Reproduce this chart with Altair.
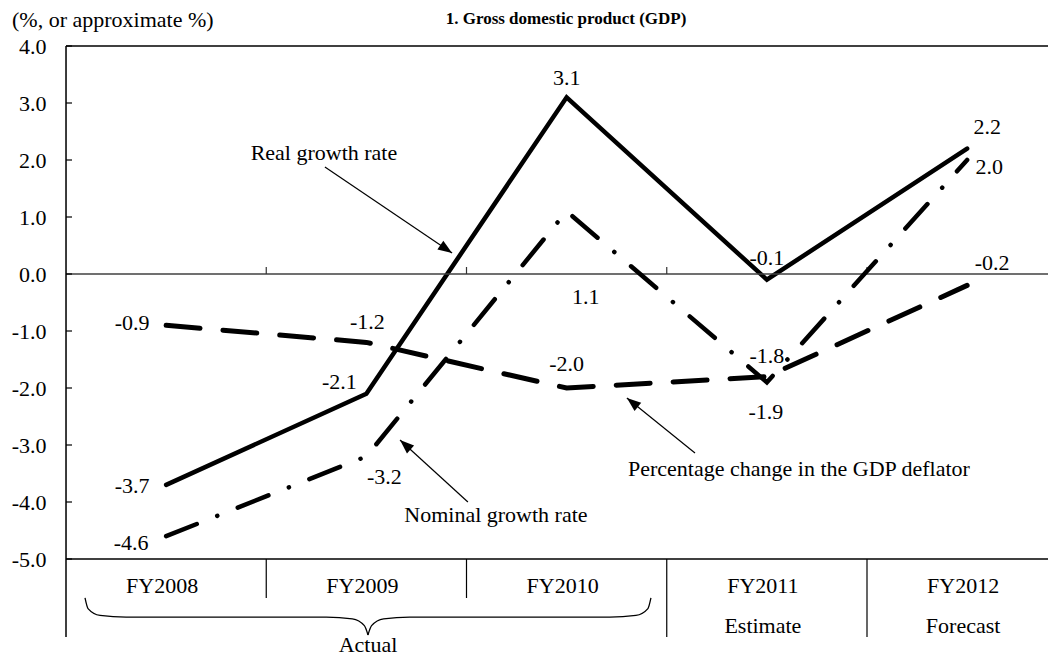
import altair as alt
import pandas as pd

# ---------------- data ----------------
categories = ["FY2008", "FY2009", "FY2010", "FY2011", "FY2012"]
sublabels = ["", "", "", "Estimate", "Forecast"]
real_growth = [-3.7, -2.1, 3.1, -0.1, 2.2]
nominal_growth = [-4.6, -3.2, 1.1, -1.9, 2.0]
deflator_change = [-0.9, -1.2, -2.0, -1.8, -0.2]
y_ticks = [-5, -4, -3, -2, -1, 0, 1, 2, 3, 4]

# ---------------- layout ----------------
W, H = 982, 513
PX_X = 200.25          # pixels per category band (last band runs past the right edge)
PX_Y = H / 9
X_MAX = W / PX_X
FONT = "Liberation Serif"
FS = 22

# label offsets in pixels (dx, dy) from each point
label_offsets = {
    "real": [(-34, 1), (-27, -12), (0, -19), (0, -22), (20, -22)],
    "nominal": [(-35, 7), (18, 21), (19, 86), (-1, 30), (22, 7)],
    "deflator": [(-34, -2), (1, -20), (0, -24), (0, -21), (25, -22)],
}

series = {"real": real_growth, "nominal": nominal_growth, "deflator": deflator_change}
rows = []
for s, vals in series.items():
    for i, v in enumerate(vals):
        dx, dy = label_offsets[s][i]
        rows.append({
            "series": s, "cat": categories[i], "pos": i + 0.5, "value": v,
            "label": f"{v:.1f}",
            "lx": i + 0.5 + dx / PX_X, "ly": v - dy / PX_Y,
        })
df = pd.DataFrame(rows)
cat_df = pd.DataFrame({"cat": categories, "sub": sublabels,
                       "pos": [i + 0.5 for i in range(len(categories))]})

XS = alt.Scale(domain=[0, X_MAX], nice=False, zero=False)
YS = alt.Scale(domain=[-5, 4], nice=False, zero=False)

yaxis = alt.Axis(values=y_ticks,
                 labelExpr="(datum.value < 0 ? '-' : '') + format(abs(datum.value), '.1f')",
                 labelFont=FONT, labelFontSize=FS, labelColor="black",
                 ticks=False, domain=False, grid=False, labelPadding=20, title=None)


def X(f):
    return alt.X(f, type="quantitative", scale=XS, axis=None)


def Y(f):
    return alt.Y(f, type="quantitative", scale=YS, axis=yaxis)


base = alt.Chart(df)

line_real = base.transform_filter("datum.series == 'real'").mark_line(
    color="black", strokeWidth=4.5, strokeJoin="miter", strokeCap="round"
).encode(x=X("pos"), y=Y("value"))

line_nom = base.transform_filter("datum.series == 'nominal'").mark_line(
    color="black", strokeWidth=4.5, strokeCap="round", strokeDash=[33, 22, 0.1, 22]
).encode(x=X("pos"), y=Y("value"))

line_def = base.transform_filter("datum.series == 'deflator'").mark_line(
    color="black", strokeWidth=5, strokeCap="round", strokeDash=[34, 23]
).encode(x=X("pos"), y=Y("value"))

labels = base.mark_text(font=FONT, fontSize=FS, color="black", baseline="middle").encode(
    x=X("lx"), y=Y("ly"), text="label:N")

# frame lines
hlines = alt.Chart(pd.DataFrame({"y": [4, 0, -5], "w": [2, 1.5, 2]})).mark_rule(
    color="#404040").encode(y=Y("y"), strokeWidth=alt.StrokeWidth("w:Q", scale=None))

left_axis = alt.Chart(pd.DataFrame({"x": [0]})).mark_rule(color="black", strokeWidth=1.5).encode(
    x=X("x"), y=alt.value(0), y2=alt.value(H + 78))

ytick_marks = alt.Chart(pd.DataFrame({"y": y_ticks})).mark_rule(color="black", strokeWidth=1.2).encode(
    y=Y("y"), x=alt.value(0), x2=alt.value(6))

zero_ticks = alt.Chart(pd.DataFrame({"x": [1, 2, 3, 4], "y": [0] * 4, "y2": [7 / PX_Y] * 4})).mark_rule(
    color="#333333", strokeWidth=1.2).encode(x=X("x"), y=Y("y"), y2="y2:Q")

sep_short = alt.Chart(pd.DataFrame({"x": [1, 2]})).mark_rule(color="black", strokeWidth=1.2).encode(
    x=X("x"), y=alt.value(H), y2=alt.value(H + 39))
sep_long = alt.Chart(pd.DataFrame({"x": [3, 4]})).mark_rule(color="black", strokeWidth=1.2).encode(
    x=X("x"), y=alt.value(H), y2=alt.value(H + 78))

cat_text = alt.Chart(cat_df).mark_text(font=FONT, fontSize=FS, color="black", baseline="middle", dx=-4).encode(
    x=X("pos"), y=alt.value(H + 27), text="cat:N")
sub_text = alt.Chart(cat_df).transform_filter("datum.sub != ''").mark_text(
    font=FONT, fontSize=FS, color="black", baseline="middle", dx=-4).encode(
    x=X("pos"), y=alt.value(H + 67), text="sub:N")

# brace under the actual years
brace_df = pd.DataFrame({
    "part": ["l"] * 8 + ["r"] * 8,
    "bx": [0.095, 0.11, 0.17, 0.30, 1.30, 1.43, 1.49, 1.508,
           1.508, 1.526, 1.586, 1.716, 2.716, 2.846, 2.906, 2.921],
    "by": [-5.684, -5.87, -5.99, -6.018, -6.018, -6.05, -6.17, -6.333,
           -6.333, -6.17, -6.05, -6.018, -6.018, -5.99, -5.87, -5.684],
})
brace = alt.Chart(brace_df).mark_line(color="black", strokeWidth=1.3, interpolate="monotone").encode(
    x=X("bx"), y=Y("by"), detail="part:N")
actual_text = alt.Chart(pd.DataFrame({"x": [1.508], "t": ["Actual"]})).mark_text(
    font=FONT, fontSize=FS, color="black", baseline="middle").encode(
    x=X("x"), y=alt.value(H + 86), text="t:N")

# annotations with arrows
arrow_df = pd.DataFrame({
    "x": [1.293, 2.007, 3.141], "y": [1.877, -4.0, -3.140],
    "x2": [1.928, 1.668, 2.801], "y2": [0.368, -2.912, -2.175],
    "angle": [124, 312, 309],
})
arrow_lines = alt.Chart(arrow_df).mark_rule(color="black", strokeWidth=1.2).encode(
    x=X("x"), y=Y("y"), x2="x2:Q", y2="y2:Q")
arrow_heads = alt.Chart(arrow_df).mark_point(
    shape="M0,0L0.75,2L-0.75,2Z", filled=True, color="black", opacity=1, size=200, strokeWidth=0
).encode(x=X("x2"), y=Y("y2"), angle=alt.Angle("angle:Q", scale=None))

ann_df = pd.DataFrame({
    "x": [1.288, 2.147, 3.660], "y": [2.123, -4.228, -3.421],
    "t": ["Real growth rate", "Nominal growth rate", "Percentage change in the GDP deflator"],
})
ann_text = alt.Chart(ann_df).mark_text(font=FONT, fontSize=FS, color="black", baseline="middle").encode(
    x=X("x"), y=Y("y"), text="t:N")

# titles
unit_text = alt.Chart(pd.DataFrame({"t": ["(%, or approximate %)"]})).mark_text(
    font=FONT, fontSize=FS, color="black", baseline="middle", align="left").encode(
    x=alt.value(-54), y=alt.value(-26), text="t:N")
title_text = alt.Chart(pd.DataFrame({"t": ["1. Gross domestic product (GDP)"]})).mark_text(
    font=FONT, fontSize=17, fontWeight="bold", color="black", baseline="middle").encode(
    x=alt.value(500), y=alt.value(-27), text="t:N")

chart = alt.layer(
    line_real, hlines, zero_ticks, ytick_marks, left_axis, sep_short, sep_long,
    line_def, line_nom, labels,
    arrow_lines, arrow_heads, ann_text,
    cat_text, sub_text, brace, actual_text, unit_text, title_text,
).properties(
    width=W, height=H,
    autosize=alt.AutoSizeParams(type="none"),
    padding={"left": 58, "top": 38, "right": 0, "bottom": 103},
).configure_view(stroke=None).configure(background="white")

chart.save("out.html", embed_options={"renderer": "svg", "actions": False})
